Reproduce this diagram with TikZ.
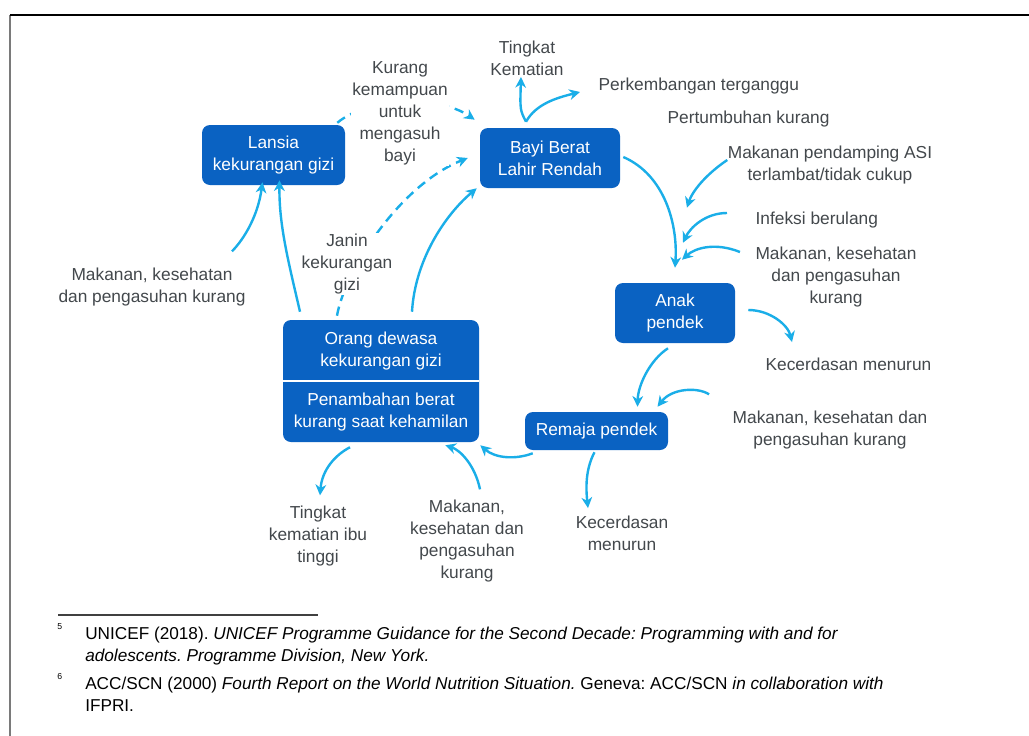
\documentclass[tikz,border=0pt]{standalone}
\usepackage{fontspec}
\setmainfont{Liberation Sans}
\usetikzlibrary{arrows.meta,calc}
\definecolor{boxblue}{HTML}{0A62C2}
\definecolor{arrowcyan}{HTML}{1AAEE8}
\definecolor{txtgray}{HTML}{43484C}
\definecolor{framegray}{HTML}{7A7A7A}

\begin{document}
\frenchspacing
\begin{tikzpicture}[x=0.75pt,y=-0.75pt,
  box/.style={fill=boxblue, rounded corners=6pt, text=white, align=center,
    font=\fontsize{13}{16.5}\selectfont, inner sep=0pt},
  boxtext/.style={text=white, align=center, font=\fontsize{13}{16.5}\selectfont, inner sep=0pt},
  lbl/.style={text=txtgray, align=center, font=\fontsize{13}{16.5}\selectfont, inner sep=1pt},
  flow/.style={draw=arrowcyan, line width=1.8pt, -{Stealth[length=8pt,width=8pt,inset=2.5pt]}},
  dflow/.style={flow, dash pattern=on 7pt off 4.5pt},
  note/.style={anchor=base west, inner sep=0pt, font=\fontsize{12.9}{16.5}\selectfont},
  notemark/.style={anchor=base west, inner sep=0pt, font=\fontsize{6.5}{8}\selectfont},
]
\useasboundingbox (0,0) rectangle (1029,736);
\fill[white] (0,0) rectangle (1029,736);

% page frame
\draw[framegray, line width=1.6pt] (10,736) -- (10,15);
\draw[black, line width=1.2pt] (10,15) -- (1029,15);

% main stages of the cycle
\node[box, minimum width=107.25pt, minimum height=45pt] (lansia) at (273.5,155) {Lansia\\kekurangan gizi};
\node[box, minimum width=105pt, minimum height=45pt] (bayi) at (550,158) {Bayi Berat\\Lahir Rendah};
\node[box, minimum width=90pt, minimum height=45pt] (anak) at (675,313) {Anak\\pendek};
\node[box, minimum width=107.25pt, minimum height=28.5pt] (remaja) at (596.5,431) {Remaja pendek};
\node[box, minimum width=147pt, minimum height=91.5pt] (orang) at (381,381) {};
\draw[white, line width=1.5pt] (orang.west) -- (orang.east);
\node[boxtext] (orangtop) at (381,351) {Orang dewasa\\kekurangan gizi};
\node[boxtext] (orangbot) at (381,412) {Penambahan berat\\kurang saat kehamilan};

% outcome and cause labels
\node[lbl] (tingkat) at (527,58) {Tingkat\\Kematian};
\node[lbl, anchor=west] (perk) at (597,86) {Perkembangan terganggu};
\node[lbl, anchor=west] (pertum) at (666,119) {Pertumbuhan kurang};
\node[lbl] (mpasi) at (830,165) {Makanan pendamping ASI\\terlambat/tidak cukup};
\node[lbl, anchor=west] (infeksi) at (754,220) {Infeksi berulang};
\node[lbl] (mkA) at (836,277) {Makanan, kesehatan\\dan pengasuhan\\kurang};
\node[lbl, anchor=west] (kecA) at (764,364) {Kecerdasan menurun};
\node[lbl] (mkB) at (830,430) {Makanan, kesehatan dan\\pengasuhan kurang};
\node[lbl] (kecB) at (622,533) {Kecerdasan\\menurun};
\node[lbl] (mkC) at (467,541) {Makanan,\\kesehatan dan\\pengasuhan\\kurang};
\node[lbl] (ibu) at (318,536) {Tingkat\\kematian ibu\\tinggi};
\node[lbl] (mkD) at (152,287) {Makanan, kesehatan\\dan pengasuhan kurang};

% connectors
\coordinate (kbase) at ($(bayi.north)+(-24,-6)$);
\draw[flow] (kbase) .. controls (520,110) .. ($(tingkat.south)+(-6,0)$);
\draw[flow] (kbase) .. controls (536,104) and (556,98) .. ($(perk.west)+(-17,6)$);

\draw[dflow] ($(lansia.north east)+(-8,-2)$) .. controls (372,95) and (440,96) .. ($(bayi.north west)+(-5,-8)$);
\draw[dflow] ($(orang.north)+(-44,-4)$) .. controls (345,270) and (400,185) .. ($(bayi.west)+(-12,0)$);
\draw[flow] ($(orang.north)+(31,-8)$) .. controls (415,260) and (445,215) .. ($(bayi.south west)+(-3,0)$);
\draw[flow] ($(orang.north)+(-81,-8)$) .. controls (288,260) and (279,225) .. ($(lansia.south)+(6,-5)$);
\draw[flow] ($(mkD.north)+(80,-15)$) .. controls (245,238) and (258,215) .. ($(lansia.south)+(-11,-3)$);

\draw[flow] ($(bayi.east)+(3,-1)$) .. controls (665,175) and (678,225) .. ($(anak.north)+(0,-15)$);
\draw[flow] ($(mpasi.west)+(1,-5)$) .. controls (705,175) and (692,192) .. ($(anak.north)+(12,-75)$);
\draw[flow] ($(infeksi.west)+(-27,-7)$) .. controls (705,213) and (690,228) .. ($(anak.north)+(8,-40)$);
\draw[flow] ($(mkA.west)+(-14,-25)$) .. controls (715,242) and (695,248) .. ($(anak.north)+(7,-23)$);

\draw[flow] ($(anak.east)+(13,-3)$) .. controls (770,310) and (788,325) .. ($(kecA.north west)+(28,-14)$);
\draw[flow] ($(anak.south)+(-7,5)$) .. controls (650,360) and (638,385) .. ($(remaja.north)+(41,-5)$);
\draw[flow] ($(mkB.north west)+(-22,-15)$) .. controls (698,387) and (672,388) .. ($(remaja.north)+(61,-5)$);
\draw[flow] ($(remaja.south)+(-2,2)$) .. controls (585,470) and (586,490) .. ($(kecB.north)+(-34,-6)$);
\draw[flow] ($(remaja.south west)+(8,3)$) .. controls (515,460) and (495,458) .. ($(orang.south east)+(1,3)$);
\draw[flow] ($(mkC.north)+(13,-9)$) .. controls (475,465) and (460,450) .. ($(orang.south east)+(-34,3)$);
\draw[flow] ($(orang.south)+(-31,5)$) .. controls (335,455) and (322,470) .. ($(ibu.north)+(2,-9)$);

% labels set over the dashed connectors
\node[lbl, fill=white] (kurang) at (400,113) {Kurang\\kemampuan\\untuk\\mengasuh\\bayi};
\node[lbl, fill=white] (janin) at (347,264) {Janin\\kekurangan\\gizi};

% footnotes
\draw[black!75, line width=1.3pt] (58,615) -- (318,615);
\node[notemark] (m5) at (57,629) {5};
\node[note] (n5a) at (85,639) {UNICEF (2018). \textit{UNICEF Programme Guidance for the Second Decade: Programming with and for}};
\node[note] (n5b) at (85,661) {\textit{adolescents. Programme Division, New York.}};
\node[notemark] (m6) at (57,679) {6};
\node[note] (n6a) at (85,689) {ACC/SCN (2000) \textit{Fourth Report on the World Nutrition Situation.} Geneva: ACC/SCN \textit{in collaboration with}};
\node[note] (n6b) at (85,711) {IFPRI.};
\end{tikzpicture}
\end{document}
